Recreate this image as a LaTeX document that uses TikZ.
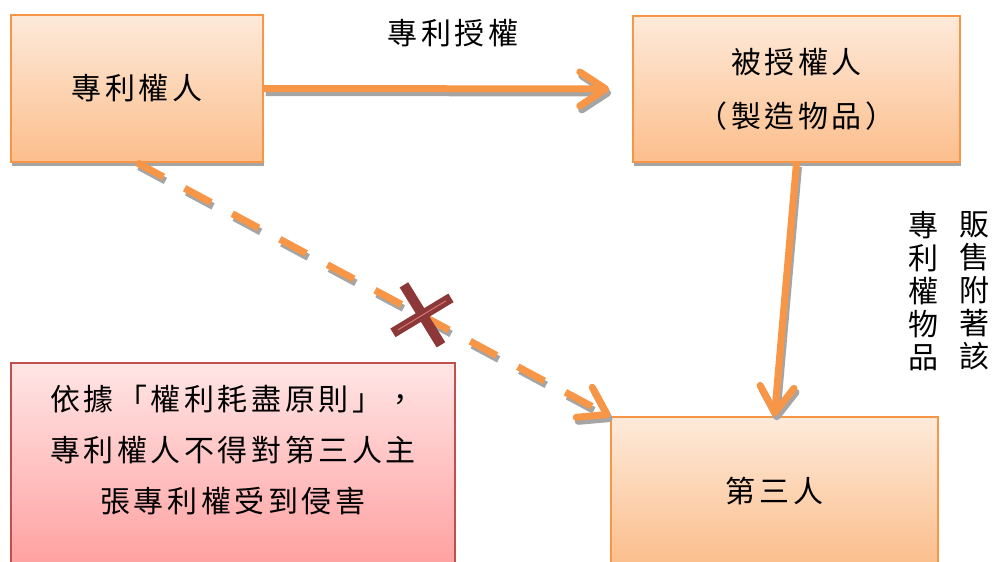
\documentclass[tikz,border=0pt]{standalone}
\usepackage{fontspec}
\setmainfont{Noto Sans CJK TC}[LetterSpace=12]
\usetikzlibrary{arrows.meta,shadows,calc}

\definecolor{boxtop}{RGB}{253,234,218}
\definecolor{boxbottom}{RGB}{252,190,140}
\definecolor{boxline}{RGB}{247,150,70}
\definecolor{ruletop}{RGB}{255,229,229}
\definecolor{rulebottom}{RGB}{255,160,160}
\definecolor{ruleline}{RGB}{192,80,77}
\definecolor{crossred}{RGB}{140,56,56}
\definecolor{crossglint}{RGB}{215,120,120}
\definecolor{shade}{RGB}{165,165,165}

\tikzset{
  party/.style={rectangle, draw=boxline, line width=1.5pt, top color=boxtop, bottom color=boxbottom,
    drop shadow={shadow xshift=1pt, shadow yshift=-3.5pt, fill=shade, opacity=1},
    font=\fontsize{30}{54}\selectfont, align=center},
  rulebox/.style={rectangle, draw=ruleline, line width=1.5pt, top color=ruletop, bottom color=rulebottom,
    font=\fontsize{30}{51}\selectfont, align=center},
  sidetext/.style={font=\fontsize{30}{33}\selectfont, align=center, inner sep=0pt},
  link/.style={draw=boxline, line width=7pt, -{Straight Barb[length=26pt,width=34pt,round]}},
  linkshadow/.style={link, draw=shade, transform canvas={shift={(2pt,-4pt)}}},
  crossline/.style={draw=crossred, line width=10pt},
}

\begin{document}
\begin{tikzpicture}[x=1pt, y=-1pt]
  \useasboundingbox (0,0) rectangle (993,562);
  \clip (0,0) rectangle (993,562);

  % boxes
  \node[party, minimum width=252, minimum height=147] (patentee) at (137,88.5) {專利權人};
  \node[party, minimum width=327, minimum height=146] (licensee) at (796.5,89) {被授權人\\（製造物品）};
  \node[party, minimum width=327, minimum height=147] (third) at (774.5,490.5) {第三人};
  \node[rulebox, minimum width=444, minimum height=204, text depth=32pt] (rule) at (233,465)
    {依據「權利耗盡原則」，\\專利權人不得對第三人主\\張專利權受到侵害};

  % labels
  \node[font=\fontsize{30}{33}\selectfont] (license) at (453,33) {專利授權};
  \node[sidetext] (sellR) at (974,291) {販\\售\\附\\著\\該};
  \node[sidetext] (sellL) at (923,291) {專\\利\\權\\物\\品};

  % connectors
  \draw[linkshadow, shorten >=23pt] (patentee.east) -- (licensee.west);
  \draw[link, shorten >=23pt] (patentee.east) -- (licensee.west);
  \draw[linkshadow] (licensee.south) -- (third.north);
  \draw[link] (licensee.south) -- (third.north);
  \draw[linkshadow, dash pattern=on 30pt off 24pt] (patentee.south) -- (third.north west);
  \draw[link, dash pattern=on 30pt off 24pt] (patentee.south) -- (third.north west);

  % cross
  \coordinate (cross) at ($(patentee.south)!0.6!(third.north west)$);
  \draw[crossline] ($(cross)+(-17,-30)$) -- ($(cross)+(20,30)$);
  \draw[crossline] ($(cross)+(-28,18)$) -- ($(cross)+(30,-17)$);
  \draw[crossglint, line width=1pt] ($(cross)+(-23,15)$) -- ($(cross)+(25,-14)$);
\end{tikzpicture}
\end{document}
